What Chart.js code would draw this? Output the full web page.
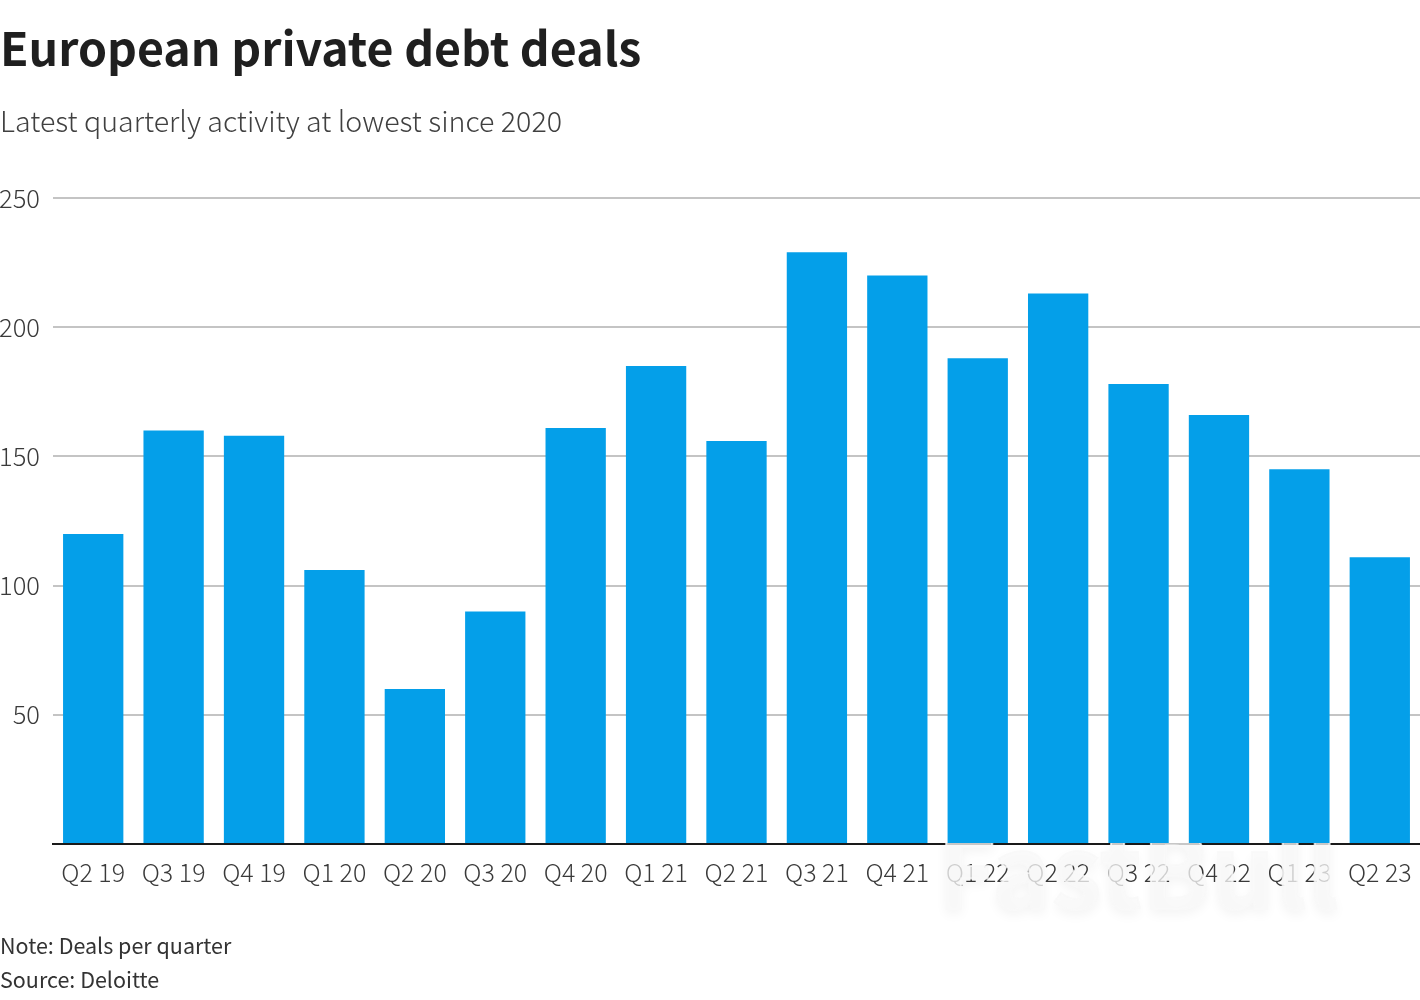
<!DOCTYPE html>
<html><head><meta charset="utf-8">
<script src="https://cdn.jsdelivr.net/npm/chart.js@4"></script>
<style>
html,body{margin:0;padding:0;background:#fff;width:1420px;height:1000px;overflow:hidden;font-family:"Noto Sans CJK SC","Noto Sans",sans-serif}
canvas{position:absolute;left:0;top:0}
.t{position:absolute;left:0;white-space:nowrap;color:#222}
#title{top:13px;font-size:46.5px;font-weight:700;line-height:66px;color:#1f1f1f}
#sub{top:98px;font-size:28.6px;font-weight:300;line-height:44px;color:#404040}
.foot{font-size:21.5px;line-height:34px;color:#333}
#note{top:928px}#src{top:962px}
#wmclip{position:absolute;left:900px;top:843px;width:500px;height:105px;overflow:hidden}
#wm{position:absolute;left:37px;top:-43px;font-size:101px;font-weight:700;line-height:130px;color:rgba(248,248,248,.78);-webkit-text-stroke:2px rgba(248,248,248,.78);text-shadow:0 5px 12px rgba(0,0,0,.05);white-space:nowrap}
</style></head><body>
<div style="position:absolute;left:0;top:0;width:1420px;height:1000px"><canvas id="c" width="1420" height="1000"></canvas></div>
<div class="t" id="title">European private debt deals</div>
<div class="t" id="sub">Latest quarterly activity at lowest since 2020</div>
<div class="t foot" id="note">Note: Deals per quarter</div>
<div class="t foot" id="src">Source: Deloitte</div>
<div id="wmclip"><div id="wm">FastBull</div></div>
<script>
const categories=["Q2 19","Q3 19","Q4 19","Q1 20","Q2 20","Q3 20","Q4 20","Q1 21","Q2 21","Q3 21","Q4 21","Q1 22","Q2 22","Q3 22","Q4 22","Q1 23","Q2 23"];
const deals=[120,160,158,106,60,90,161,185,156,229,220,188,213,178,166,145,111];
const yTicks=[0,50,100,150,200,250];
const font='"Noto Sans CJK SC","Noto Sans",sans-serif';
new Chart(document.getElementById('c'),{
 type:'bar',
 data:{labels:categories,datasets:[{label:'Deals per quarter',data:deals,backgroundColor:'#049fe9',barPercentage:0.75,categoryPercentage:1}]},
 options:{responsive:false,animation:false,devicePixelRatio:1,
  layout:{padding:{top:198,left:0,right:0,bottom:0}},
  plugins:{legend:{display:false},title:{display:false},tooltip:{enabled:false}},
  scales:{
   x:{grid:{display:false,drawTicks:false},border:{display:true,color:'#1a1a1a',width:2},
      ticks:{color:'#3a3a3a',font:{family:font,size:25,weight:300},padding:13,maxRotation:0,autoSkip:false},
      afterFit(s){s.height=156;s.paddingLeft=0;s.paddingRight=0;}},
   y:{min:0,max:250,afterBuildTicks(s){s.ticks=yTicks.map(v=>({value:v}));},
      grid:{color:c=>c.tick.value===0?'rgba(0,0,0,0)':'#c4c4c4',lineWidth:2,drawTicks:false},border:{display:false},
      ticks:{color:'#3a3a3a',font:{family:font,size:25.5,weight:300},padding:13,callback:v=>v===0?'':String(v)},
      afterFit(s){s.width=53;s.paddingTop=0;s.paddingBottom=0;}}
  }}
});
</script></body></html>
